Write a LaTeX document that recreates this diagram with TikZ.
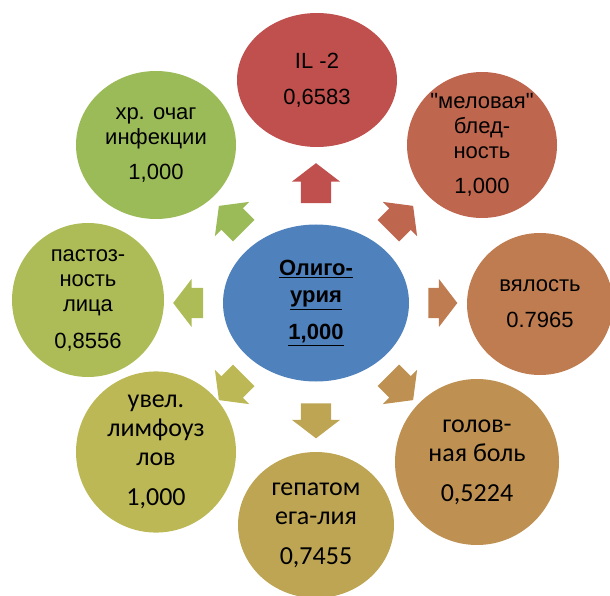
\documentclass[tikz,border=0pt]{standalone}
\usepackage{fontspec}
\setmainfont{Liberation Sans}
\newfontfamily\calib{Carlito}
\usepackage{tikz}
\usetikzlibrary{shapes.geometric,shapes.arrows,calc}
\definecolor{hubblue}{HTML}{4F81BD}
\definecolor{c1}{HTML}{C0504D}
\definecolor{c2}{HTML}{BF664F}
\definecolor{c3}{HTML}{BE7C50}
\definecolor{c4}{HTML}{BE9152}
\definecolor{c5}{HTML}{BDA554}
\definecolor{c6}{HTML}{BCB855}
\definecolor{c7}{HTML}{ADBC57}
\definecolor{c8}{HTML}{9BBB59}
\begin{document}
\begin{tikzpicture}[x=1pt,y=1pt,
		every node/.style={align=center,text=black},
		blob/.style={ellipse,inner sep=0pt,font=\fontsize{22}{25}\selectfont},
		cblob/.style={blob,font=\calib\fontsize{26}{29}\selectfont},
		hub/.style={ellipse,inner sep=0pt,fill=hubblue,font=\bfseries\fontsize{22}{27}\selectfont},
		spoke/.style={single arrow,inner xsep=0pt,inner ysep=15pt,
			single arrow head extend=9,single arrow tip angle=105}]
		\useasboundingbox (0,0) rectangle (610,595);
		
		\node[hub,minimum width=186,minimum height=157] (olig) at (316,292)
			{\underline{Олиго-}\\\underline{урия}\\[10pt]\underline{1,000}};
		
		\node[blob,fill=c1,minimum width=160,minimum height=134] (il) at (317,515) {IL -2\\[11pt]0,6583};
		\node[blob,fill=c2,minimum width=150,minimum height=146] (mel) at (482,450) {\textquotedbl меловая\textquotedbl\\блед-\\ность\\[10pt]1,000};
		\node[blob,fill=c3,minimum width=146,minimum height=142] (vyal) at (540,291) {вялость\\[11pt]0.7965};
		\node[cblob,fill=c4,minimum width=164,minimum height=166] (golov) at (477,133) {голов-\\ная боль\\[11pt]0,5224};
		\node[cblob,fill=c5,minimum width=156,minimum height=146] (gepat) at (316,70) {гепатом\\ега-лия\\[11pt]0,7455};
		\node[cblob,fill=c6,minimum width=160,minimum height=156] (limf) at (156,143) {увел.\\лимфоуз\\лов\\[11pt]1,000};
		\node[blob,fill=c7,minimum width=152,minimum height=154] (past) at (88,295) {пастоз-\\ность\\лица\\[12pt]0,8556};
		\node[blob,fill=c8,minimum width=160,minimum height=148] (ochag) at (156,450) {хр. очаг\\инфекции\\[10pt]1,000};
		
		\foreach \ang/\len/\dist/\col [count=\i] in {90/40/114/c1,45/35/114/c2,0/29/121/c3,-45/35/114/c4,
			-90/35/112/c5,-135/35/114/c6,180/30/122/c7,135/35/114/c8}
			\node[spoke,fill=\col,minimum height=\len,rotate=\ang] (arr\i) at ($(olig)+(\ang:\dist)$) {};
	\end{tikzpicture}
\end{document}
